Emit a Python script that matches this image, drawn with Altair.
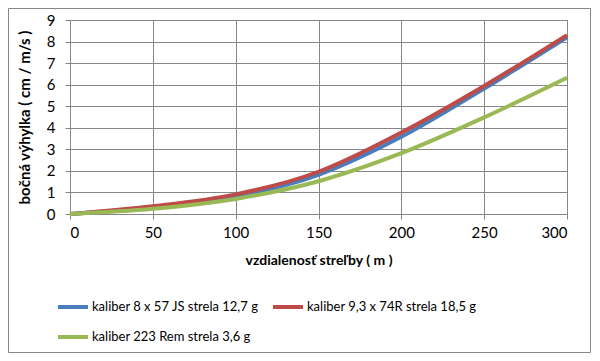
import altair as alt
import pandas as pd

distance = [0, 50, 100, 150, 200, 250, 300]
s_blue = [0, 0.33, 0.82, 1.82, 3.58, 5.82, 8.2]
s_red = [0, 0.36, 0.91, 1.96, 3.78, 5.94, 8.3]
s_green = [0, 0.24, 0.70, 1.52, 2.82, 4.48, 6.32]
names = ["kaliber 8 x 57 JS strela 12,7 g",
         "kaliber 9,3 x 74R strela 18,5 g",
         "kaliber 223 Rem strela 3,6 g"]
colors = ["#4a7ebb", "#be4b48", "#98b954"]

rows = []
for i, (name, vals) in enumerate(zip(names, [s_blue, s_red, s_green])):
    for d, v in zip(distance, vals):
        rows.append({"d": d, "v": v, "s": name, "k": i})
df = pd.DataFrame(rows)

# legend fills column-major: order so that row 1 = blue, red; row 2 = green
leg_domain = [names[0], names[2], names[1]]
leg_range = [colors[0], colors[2], colors[1]]

FONT = "Lato"
W, H = 497, 194

lines = alt.Chart(df).mark_line(strokeWidth=4, interpolate="monotone").encode(
    x=alt.X("d:Q", scale=alt.Scale(domain=[0, 300], nice=False),
            axis=alt.Axis(values=[0, 50, 100, 150, 200, 250, 300],
                          title="vzdialenosť streľby ( m )")),
    y=alt.Y("v:Q", scale=alt.Scale(domain=[0, 9], nice=False),
            axis=alt.Axis(values=list(range(10)),
                          title="bočná výhylka ( cm / m/s )")),
    color=alt.Color("s:N", scale=alt.Scale(domain=leg_domain, range=leg_range),
                    legend=alt.Legend(title=None, orient="none", legendX=-14, legendY=270,
                                      columns=2, symbolType="stroke", symbolSize=900,
                                      symbolStrokeWidth=4, labelFontSize=13, labelFont=FONT,
                                      labelColor="#000", rowPadding=5, columnPadding=6,
                                      labelOffset=2, labelLimit=400)),
    order=alt.Order("d:Q"),
)

border = alt.Chart(pd.DataFrame({"a": [0]})).mark_rect(
    fill=None, stroke="#868686", strokeWidth=1
).encode(x=alt.value(-61.5), x2=alt.value(W + 23.5), y=alt.value(-11.5), y2=alt.value(H + 138.5))

chart = alt.layer(border, lines).properties(
    width=W, height=H,
    autosize=alt.AutoSizeParams(type="none"),
    padding={"left": 62, "top": 12, "right": 25, "bottom": 139},
).configure_view(stroke="#868686").configure_axis(
    grid=True, gridColor="#868686", gridWidth=1, gridOpacity=1,
    domainColor="#868686", tickColor="#868686", tickSize=5,
    labelFont=FONT, labelFontSize=15, labelColor="#000",
    titleFont=FONT, titleFontSize=14, titleFontWeight="bold", titleColor="#000",
).configure_axisX(labelPadding=6, titlePadding=13).configure_axisY(
    labelPadding=10, titlePadding=14, titleFontSize=15)

chart.save("out.html", embed_options={"renderer": "svg", "actions": False})
